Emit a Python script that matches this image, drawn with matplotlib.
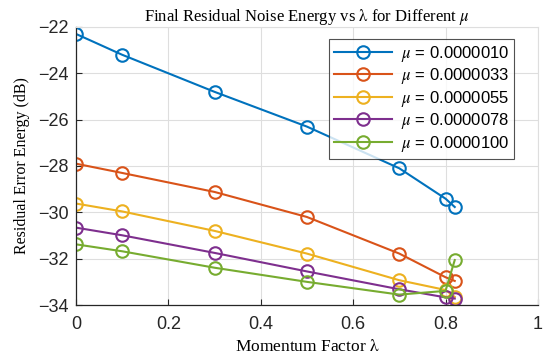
import matplotlib
matplotlib.use("Agg")
import matplotlib.pyplot as plt

plt.rcParams['mathtext.fontset'] = 'stix'

lam = [0, 0.1, 0.3, 0.5, 0.7, 0.8, 0.82]
mu_labels = ["0.0000010", "0.0000033", "0.0000055", "0.0000078", "0.0000100"]
e_mu1 = [-22.3, -23.2, -24.8, -26.3, -28.1, -29.41, -29.77]
e_mu2 = [-27.9, -28.3, -29.12, -30.2, -31.78, -32.8, -32.96]
e_mu3 = [-29.62, -29.96, -30.8, -31.78, -32.93, -33.35, -33.65]
e_mu4 = [-30.66, -30.99, -31.75, -32.55, -33.32, -33.67, -33.72]
e_mu5 = [-31.38, -31.68, -32.39, -33.0, -33.55, -33.39, -32.06]
series = [e_mu1, e_mu2, e_mu3, e_mu4, e_mu5]
colors = ["#0072BD", "#D95319", "#EDB120", "#7E2F8E", "#77AC30"]

fig = plt.figure(figsize=(5.5, 3.64), dpi=100)
ax = fig.add_axes([0.138, 0.162, 0.840, 0.764])

for vals, lab, c in zip(series, mu_labels, colors):
    ax.plot(lam, vals, '-o', color=c, lw=1.5, ms=9, mew=1.5,
            markerfacecolor='none', label=r'$\mu$ = ' + lab)

ax.set_xlim(0, 1)
ax.set_ylim(-34, -22)
ax.set_xticks([0, 0.2, 0.4, 0.6, 0.8, 1])
ax.set_xticklabels(['0', '0.2', '0.4', '0.6', '0.8', '1'])
ax.set_yticks([-34, -32, -30, -28, -26, -24, -22])
ax.grid(True, color='#dedede', lw=0.8)
ax.set_axisbelow(True)
for s in ['top', 'right']:
    ax.spines[s].set_color('#dedede')
for s in ['left', 'bottom']:
    ax.spines[s].set_color('#262626')
    ax.spines[s].set_linewidth(0.9)
ax.tick_params(direction='in', length=4, width=0.8, color='#262626',
               labelsize=13, labelcolor='#262626', top=False, right=False)
ax.tick_params(axis='x', pad=8)
ax.tick_params(axis='y', pad=5)
for t in ax.get_xticklabels() + ax.get_yticklabels():
    t.set_family('Liberation Sans')

serif = 'Liberation Serif'
ax.set_title(r'Final Residual Noise Energy vs $\mathrm{\lambda}$ for Different $\mu$',
             fontsize=12, family=serif, pad=4)
ax.set_xlabel(r'Momentum Factor $\mathrm{\lambda}$', fontsize=12.5, family=serif, labelpad=4)
ax.set_ylabel('Residual Error Energy (dB)', fontsize=11.5, family=serif, labelpad=6)

leg = ax.legend(loc='upper right', bbox_to_anchor=(0.948, 0.958),
                prop={'family': 'Liberation Sans', 'size': 12},
                frameon=True, fancybox=False, edgecolor='#262626',
                handlelength=3.5, borderpad=0.3, labelspacing=0.15,
                handletextpad=0.5, borderaxespad=0)
leg.get_frame().set_linewidth(0.8)

fig.savefig('out.png', dpi=100)
